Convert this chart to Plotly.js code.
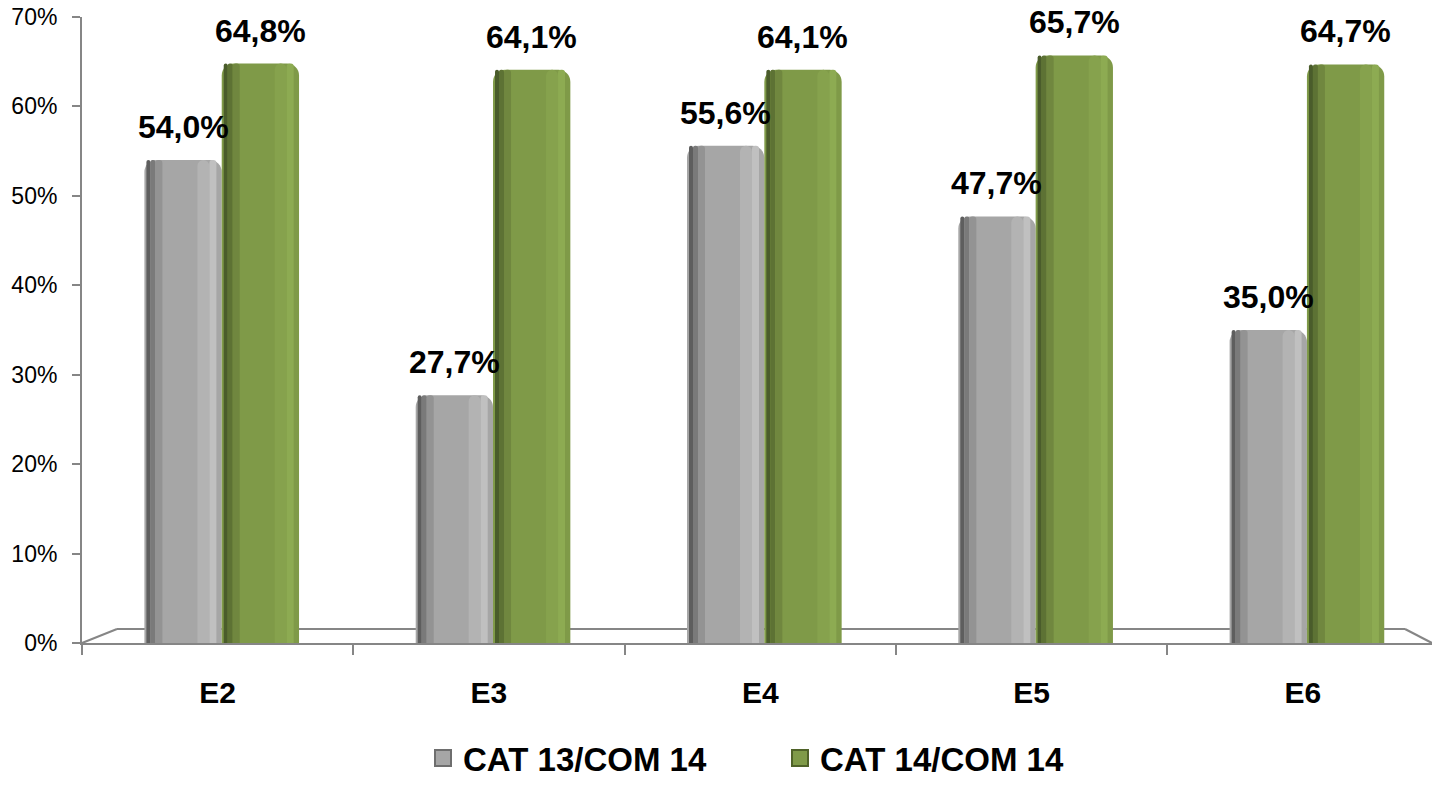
<!DOCTYPE html>
<html>
<head>
<meta charset="utf-8">
<script src="https://cdn.plot.ly/plotly-3.0.1.min.js"></script>
<style>
html,body{margin:0;padding:0;background:#fff;}
#chart{width:1432px;height:786px;}
</style>
</head>
<body>
<div id="chart"></div>
<script>
// ---- data ----
const categories = ["E2", "E3", "E4", "E5", "E6"];
const seriesNames = ["CAT 13/COM 14", "CAT 14/COM 14"];
const cat13com14 = [0.540, 0.277, 0.556, 0.477, 0.350];
const cat14com14 = [0.648, 0.641, 0.641, 0.657, 0.647];
const yTickVals = [0, 0.1, 0.2, 0.3, 0.4, 0.5, 0.6, 0.7];

// ---- style ----
const FONT = '"Liberation Sans", Arial, sans-serif';
const PX_PER_CAT = 1350 / 4.976;
const W = 0.285;            // bar width (category units)
const OFF_A = -0.27;        // offset of first series
const OFF_B = OFF_A + W;    // offset of second series
const RADIUS = 12;
const px = v => v / PX_PER_CAT;

function barSet(vals, offset, colors) {
  const main = {
    type: 'bar', x: categories, y: vals,
    offset: offset, width: W,
    marker: {color: colors.main, line: {width: 0}, cornerradius: RADIUS},
    showlegend: false, hoverinfo: 'skip'
  };
  // shading strips (cylinder look); [start px, width px, color, radius px]
  const strips = [
    [2, 4, colors.edge1, 2],
    [6, 5, colors.edge2, 2.5],
    [11, 7, colors.edge3, 3.5],
    [53, 12, colors.hi, 6],
    [65, 7, colors.hi2, 3]
  ].map(s => ({
    type: 'bar', x: categories, y: vals,
    offset: offset + px(s[0]), width: px(s[1]),
    marker: {color: s[2], line: {width: 0}, cornerradius: s[3]},
    showlegend: false, hoverinfo: 'skip'
  }));
  return [main].concat(strips);
}

function legendEntry(name, color, border) {
  return {
    type: 'scatter', mode: 'markers', name: name, x: [null], y: [null],
    marker: {symbol: 'square', size: 20, color: color, line: {color: border, width: 2}},
    showlegend: true, hoverinfo: 'skip'
  };
}

const grayColors = {main: '#a6a6a6', edge1: '#5e5e5e', edge2: '#7a7a7a', edge3: '#939393',
                    hi: '#b3b3b3', hi2: '#c0c0c0'};
const greenColors = {main: '#7f9a48', edge1: '#4a5c2b', edge2: '#5d7234', edge3: '#70873f',
                     hi: '#86a24d', hi2: '#8dab52'};

const traces = []
  .concat(barSet(cat13com14, OFF_A, grayColors))
  .concat(barSet(cat14com14, OFF_B, greenColors))
  .concat([legendEntry(seriesNames[0], '#a6a6a6', '#6e6e6e'),
           legendEntry(seriesNames[1], '#7f9a48', '#4f6228')]);

function fmt(v) { return (v * 100).toFixed(1).replace('.', ',') + '%'; }

const annotations = [];
categories.forEach((c, i) => {
  [[cat13com14, OFF_A], [cat14com14, OFF_B]].forEach(([arr, off]) => {
    annotations.push({
      x: c, y: arr[i], xref: 'x', yref: 'y',
      xshift: (off + W / 2) * PX_PER_CAT, yshift: 33,
      text: fmt(arr[i]), showarrow: false,
      font: {family: FONT, size: 32, color: '#000', weight: 'bold'},
      xanchor: 'center', yanchor: 'middle'
    });
  });
});

// 3D floor outline (decoration)
const floorY = 14 / 626;
const shapes = [
  {type: 'line', xref: 'paper', yref: 'paper', x0: 0, y0: 0, x1: 35 / 1350, y1: floorY,
   line: {color: '#868686', width: 2}, layer: 'below'},
  {type: 'line', xref: 'paper', yref: 'paper', x0: 35 / 1350, y0: floorY, x1: 1323 / 1350, y1: floorY,
   line: {color: '#868686', width: 2}, layer: 'below'},
  {type: 'line', xref: 'paper', yref: 'paper', x0: 1323 / 1350, y0: floorY, x1: 1, y1: 0,
   line: {color: '#868686', width: 2}, layer: 'below'}
];

const layout = {
  width: 1432, height: 786,
  margin: {l: 82, r: 0, t: 17, b: 143, autoexpand: false},
  paper_bgcolor: '#ffffff', plot_bgcolor: '#ffffff',
  separators: ',.',
  barmode: 'overlay',
  showlegend: true,
  font: {family: FONT, color: '#000'},
  xaxis: {
    type: 'category', range: [-0.5, 4.476], automargin: false,
    showgrid: false, zeroline: false,
    showline: true, linecolor: '#868686', linewidth: 2,
    ticks: 'outside', tickson: 'boundaries', ticklen: 10, tickcolor: '#868686', tickwidth: 2,
    tickfont: {family: FONT, size: 30, color: '#000', weight: 'bold'},
    ticklabelstandoff: 22
  },
  yaxis: {
    range: [0, 0.70], tickvals: yTickVals, tickformat: '.0%', automargin: false,
    showgrid: false, zeroline: false,
    showline: true, linecolor: '#868686', linewidth: 2,
    ticks: 'outside', ticklen: 8, tickcolor: '#868686', tickwidth: 2,
    tickfont: {family: FONT, size: 23, color: '#000'},
    ticklabelstandoff: 10
  },
  legend: {
    orientation: 'h', x: (423 - 82) / 1350, xanchor: 'left',
    yref: 'container', y: -0.016, yanchor: 'bottom',
    font: {family: FONT, size: 33, color: '#000', weight: 'bold'},
    itemwidth: 30, entrywidth: 312, itemsizing: 'trace', traceorder: 'normal'
  },
  annotations: annotations,
  shapes: shapes
};

Plotly.newPlot('chart', traces, layout, {displayModeBar: false, staticPlot: true});
</script>
</body>
</html>
